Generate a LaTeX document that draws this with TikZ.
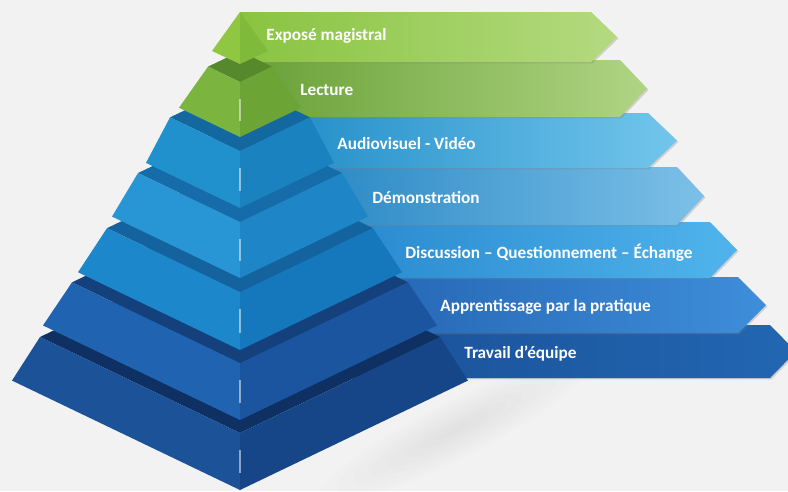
\documentclass[tikz,border=0pt]{standalone}
\usepackage{fontspec}
\setmainfont{Carlito}
\usetikzlibrary{shadows}
\definecolor{bgcol}{RGB}{242,242,242}
\definecolor{expL}{RGB}{137,196,64}
\definecolor{expR}{RGB}{180,218,128}
\definecolor{lecL}{RGB}{104,160,54}
\definecolor{lecR}{RGB}{176,212,132}
\definecolor{audL}{RGB}{27,136,196}
\definecolor{audR}{RGB}{114,198,236}
\definecolor{demL}{RGB}{27,126,190}
\definecolor{demR}{RGB}{124,192,232}
\definecolor{disL}{RGB}{30,126,198}
\definecolor{disR}{RGB}{80,180,236}
\definecolor{appL}{RGB}{30,90,168}
\definecolor{appR}{RGB}{62,142,218}
\definecolor{traL}{RGB}{24,76,146}
\definecolor{traR}{RGB}{34,102,178}
\definecolor{t1l}{RGB}{143,199,66}
\definecolor{t1r}{RGB}{128,186,58}
\definecolor{t2l}{RGB}{124,180,64}
\definecolor{t2r}{RGB}{108,164,54}
\definecolor{t2t}{RGB}{86,136,44}
\definecolor{t3l}{RGB}{33,145,205}
\definecolor{t3r}{RGB}{26,130,190}
\definecolor{t3t}{RGB}{20,104,160}
\definecolor{t4l}{RGB}{40,150,212}
\definecolor{t4r}{RGB}{30,134,198}
\definecolor{t4t}{RGB}{22,108,168}
\definecolor{t5l}{RGB}{28,136,203}
\definecolor{t5r}{RGB}{22,120,188}
\definecolor{t5t}{RGB}{20,98,158}
\definecolor{t6l}{RGB}{32,99,176}
\definecolor{t6r}{RGB}{27,85,160}
\definecolor{t6t}{RGB}{20,64,124}
\definecolor{t7l}{RGB}{27,82,152}
\definecolor{t7r}{RGB}{22,70,136}
\definecolor{t7t}{RGB}{14,48,98}
\newcommand{\band}[6]{\shade[left color=#5, right color=#6, drop shadow={opacity=0.3,shadow xshift=0.8pt,shadow yshift=-0.8pt}] (240,#1) -- (#3,#1) -- (#4,{(#1+#2)/2}) -- (#3,#2) -- (240,#2) -- cycle;}
\newcommand{\tier}[7]{%
\fill[#7] (240-#1,#2-0.48*#1) -- (240,#2) -- (240+#1,#2-0.48*#1) -- (240,#2-0.96*#1) -- cycle;
\fill[#5] (240-#1,#2-0.48*#1) -- (240,#2) -- (240,#4) -- (240-#3,#4-0.48*#3) -- cycle;
\fill[#6] (240,#2) -- (240+#1,#2-0.48*#1) -- (240+#3,#4-0.48*#3) -- (240,#4) -- cycle;
\draw[white, opacity=0.5, line width=0.6pt] (240,{0.7*#2+0.3*#4}) -- (240,{0.3*#2+0.7*#4});}
\tikzset{tiertext/.style={anchor=west, inner sep=0pt, text=white, font=\bfseries\fontsize{9.8}{11}\selectfont}}

\begin{document}
\begin{tikzpicture}[x=0.02cm, y=-0.02cm]
\fill[bgcol] (0,0) rectangle (788,491);
\useasboundingbox (0,0) rectangle (788,491);
\begin{scope}[shift={(455,430)}, rotate=27]
\foreach \r in {1,...,8} \fill[black, opacity=0.008] (0,0) ellipse [x radius=19*\r, y radius=3.6*\r];
\end{scope}
\band{325}{378}{770}{796}{traL}{traR}
\band{277}{333}{738}{766}{appL}{appR}
\band{222}{278}{710}{737}{disL}{disR}
\band{167}{225}{677}{704}{demL}{demR}
\band{113}{168}{648}{677}{audL}{audR}
\band{60}{117}{620}{647}{lecL}{lecR}
\band{12}{62}{591}{617}{expL}{expR}
\tier{200}{433}{228}{490}{t7l}{t7r}{t7t}
\tier{168}{363}{197}{420}{t6l}{t6r}{t6t}
\tier{133}{292}{162}{350}{t5l}{t5r}{t5t}
\tier{102}{222}{128}{278}{t4l}{t4r}{t4t}
\tier{70}{151}{94}{208}{t3l}{t3r}{t3t}
\tier{32}{82}{61}{137}{t2l}{t2r}{t2t}
\fill[t1l] (240,12) -- (212,51) -- (240,64) -- cycle;
\fill[t1r] (240,12) -- (240,64) -- (268,51) -- cycle;
\node[tiertext] (expose) at (266,36) {Exposé magistral};
\node[tiertext] (lecture) at (300,90) {Lecture};
\node[tiertext] (audiovisuel) at (337,144) {Audiovisuel - Vidéo};
\node[tiertext] (demonstration) at (372,198) {Démonstration};
\node[tiertext] (discussion) at (405,253) {Discussion – Questionnement – Échange};
\node[tiertext] (apprentissage) at (440,307) {Apprentissage par la pratique};
\node[tiertext] (travail) at (464,354) {Travail d’équipe};
\end{tikzpicture}
\end{document}
